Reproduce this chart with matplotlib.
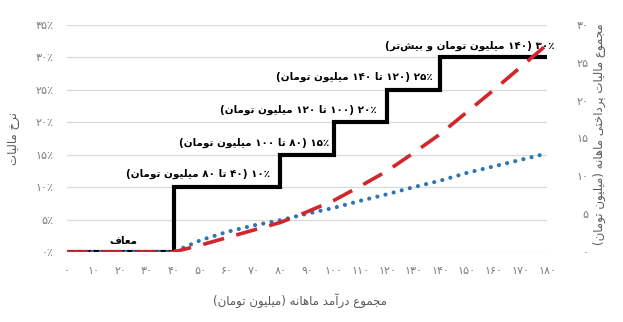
import re
import matplotlib
matplotlib.use('Agg')
import matplotlib.pyplot as plt

# income (million toman) on the x axis
income = [0, 10, 20, 30, 40, 50, 60, 70, 80, 90, 100, 110, 120, 130, 140, 150, 160, 170, 180]
# marginal rate brackets (black step line, left axis %)
bracket_x = [0, 40, 80, 100, 120, 140, 180]
bracket_rate = [0, 10, 15, 20, 25, 30, 30]
# total monthly tax paid (red dashed, right axis)
total_tax = [0, 0, 0, 0, 0, 0.9, 1.9, 2.9, 3.9, 5.3, 6.8, 8.7, 10.7, 13.1, 15.6, 18.5, 21.4, 24.4, 27.4]
# average tax rate % (blue dotted, left axis)
avg_rate = [0, 0, 0, 0, 0, 1.8, 3.1, 4.1, 4.9, 5.9, 6.8, 7.9, 8.9, 10.0, 11.0, 12.2, 13.2, 14.2, 15.2]

x_ticks = list(range(0, 190, 10))
left_ticks = [0, 5, 10, 15, 20, 25, 30, 35]
right_ticks = [0, 5, 10, 15, 20, 25, 30]

bracket_labels = ['۱۰٪ (۴۰ تا ۸۰ میلیون تومان)',
                  '۱۵٪ (۸۰ تا ۱۰۰ میلیون تومان)',
                  '۲۰٪ (۱۰۰ تا ۱۲۰ میلیون تومان)',
                  '۲۵٪ (۱۲۰ تا ۱۴۰ میلیون تومان)',
                  '۳۰٪ (۱۴۰ میلیون تومان و بیش‌تر)']
label_x = [76, 98.5, 116, 137, 183]
label_y = [12.0, 16.8, 21.9, 27.0, 31.8]

# simple persian shaping: (isolated, final, initial, medial)
FORMS = {
    'ا': ('\uFE8D', '\uFE8E', None, None),
    'آ': ('\uFE81', '\uFE82', None, None),
    'د': ('\uFEA9', '\uFEAA', None, None),
    'ر': ('\uFEAD', '\uFEAE', None, None),
    'ز': ('\uFEAF', '\uFEB0', None, None),
    'و': ('\uFEED', '\uFEEE', None, None),
    'ب': ('\uFE8F', '\uFE90', '\uFE91', '\uFE92'),
    'پ': ('\uFB56', '\uFB57', '\uFB58', '\uFB59'),
    'ت': ('\uFE95', '\uFE96', '\uFE97', '\uFE98'),
    'ج': ('\uFE9D', '\uFE9E', '\uFE9F', '\uFEA0'),
    'خ': ('\uFEA5', '\uFEA6', '\uFEA7', '\uFEA8'),
    'ش': ('\uFEB5', '\uFEB6', '\uFEB7', '\uFEB8'),
    'ع': ('\uFEC9', '\uFECA', '\uFECB', '\uFECC'),
    'ف': ('\uFED1', '\uFED2', '\uFED3', '\uFED4'),
    'ل': ('\uFEDD', '\uFEDE', '\uFEDF', '\uFEE0'),
    'م': ('\uFEE1', '\uFEE2', '\uFEE3', '\uFEE4'),
    'ن': ('\uFEE5', '\uFEE6', '\uFEE7', '\uFEE8'),
    'ه': ('\uFEE9', '\uFEEA', '\uFEEB', '\uFEEC'),
    'ی': ('\uFBFC', '\uFBFD', '\uFBFE', '\uFBFF'),
}


def shape_word(w):
    out = []
    for i, ch in enumerate(w):
        if ch not in FORMS:
            out.append(ch)
            continue
        prev = w[i - 1] if i > 0 else ''
        nxt = w[i + 1] if i + 1 < len(w) else ''
        jp = prev in FORMS and FORMS[prev][2] is not None
        jn = FORMS[ch][2] is not None and nxt in FORMS
        iso, fin, ini, med = FORMS[ch]
        if jp and jn:
            out.append(med)
        elif jp:
            out.append(fin)
        elif jn:
            out.append(ini)
        else:
            out.append(iso)
    return ''.join(out).replace('\u200c', '')


def fa(text):
    # visual order for a right-to-left line
    tokens = re.findall(r'[۰-۹0-9٪%]+|\s+|[()]|[^\s()۰-۹0-9٪%]+', text)
    vis = []
    for t in reversed(tokens):
        if t == '(':
            vis.append(')')
        elif t == ')':
            vis.append('(')
        elif re.match(r'[۰-۹0-9٪%\s]', t):
            vis.append(t)
        else:
            vis.append(shape_word(t)[::-1])
    return ''.join(vis)


def fa_digits(n):
    return str(n).translate(str.maketrans('0123456789', '۰۱۲۳۴۵۶۷۸۹'))


plt.rcParams['font.family'] = 'DejaVu Sans'

fig = plt.figure(figsize=(6.23, 3.22), dpi=100)
ax = fig.add_axes([0.1075, 0.2174, 0.7705, 0.705])
ax2 = ax.twinx()

ax.plot(bracket_x, bracket_rate, drawstyle='steps-post', color='black', lw=3, zorder=3,
        solid_joinstyle='miter')
ax.plot(income, avg_rate, color='#2e75b6', lw=3, linestyle=(0, (0.01, 2.0)),
        dash_capstyle='round', zorder=4)
ax2.plot(income, total_tax, color='#d0262c', lw=2.6, linestyle=(0, (6, 3.5)), zorder=5)

ax.set_xlim(0, 180)
ax.set_ylim(0, 35)
ax2.set_ylim(0, 30)

ax.set_xticks(x_ticks)
ax.set_xticklabels([fa_digits(v) for v in x_ticks])
ax.set_yticks(left_ticks)
ax.set_yticklabels([fa_digits(v) + '٪' for v in left_ticks])
ax2.set_yticks(right_ticks)
ax2.set_yticklabels([fa_digits(v) for v in right_ticks])

ax.grid(axis='y', color='#d9d9d9', lw=0.9)
ax.set_axisbelow(True)
for a in (ax, ax2):
    for s in a.spines.values():
        s.set_visible(False)
ax.tick_params(axis='x', length=0, pad=10, labelsize=8, labelcolor='#7f7f7f')
ax.tick_params(axis='y', length=0, pad=10, labelsize=8, labelcolor='#7f7f7f')
ax2.tick_params(axis='y', length=0, pad=30, labelsize=8, labelcolor='#7f7f7f')
for lab in ax2.get_yticklabels():
    lab.set_horizontalalignment('right')

ax.set_xlabel(fa('مجموع درآمد ماهانه (میلیون تومان)'), fontsize=8.5, color='#595959')
ax.xaxis.set_label_coords(0.485, -0.18)
ax.set_ylabel(fa('نرخ مالیات'), fontsize=8.5, color='#595959')
ax.yaxis.set_label_coords(-0.098, 0.5)
ax2.set_ylabel(fa('مجموع مالیات پرداختی ماهانه (میلیون تومان)'), fontsize=8.5,
               color='#595959', rotation=90)
ax2.yaxis.set_label_coords(1.096, 0.52)

for txt, lx, ly in zip(bracket_labels, label_x, label_y):
    ax.text(lx, ly, fa(txt), ha='right', va='center', fontsize=7.5, fontweight='bold',
            color='black', clip_on=False, zorder=6)
ax.text(21, 1.7, fa('معاف'), ha='center', va='center', fontsize=7.5, fontweight='bold')

fig.savefig('out.png', dpi=100)
